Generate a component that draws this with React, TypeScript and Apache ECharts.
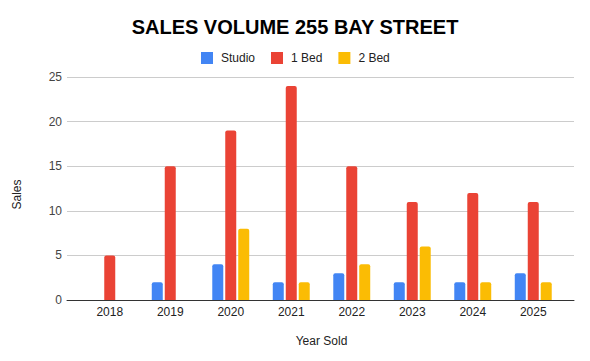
import React, { useEffect, useRef } from "react";
import * as echarts from "echarts";

const categories = ["2018", "2019", "2020", "2021", "2022", "2023", "2024", "2025"];
const studio = [0, 2, 4, 2, 3, 2, 2, 3];
const oneBed = [5, 15, 19, 24, 15, 11, 12, 11];
const twoBed = [0, 0, 8, 2, 4, 6, 2, 2];

export default function App() {
  const ref = useRef<HTMLDivElement>(null);
  useEffect(() => {
    const chart = echarts.init(ref.current!, null, { renderer: "svg" });
    const font = "Arial, 'Liberation Sans', sans-serif";
    const bar = (name: string, data: number[], color: string) => ({
      name,
      type: "bar",
      xAxisIndex: 1,
      yAxisIndex: 1,
      data,
      barWidth: 11,
      barGap: "18%",
      itemStyle: { color, borderRadius: [2, 2, 0, 0] },
    });
    const top = 77;
    const bottom = 61;
    chart.setOption({
      animation: false,
      textStyle: { fontFamily: font },
      title: {
        text: "SALES VOLUME 255 BAY STREET",
        left: "center",
        top: 12,
        textStyle: { fontSize: 20, fontWeight: "bold", color: "#000", fontFamily: font },
      },
      legend: {
        top: 47,
        left: 196,
        itemWidth: 12,
        itemHeight: 12,
        itemGap: 16,
        icon: "rect",
        textStyle: { fontSize: 12, color: "#222", fontFamily: font, padding: [0, 0, 0, 3] },
        data: ["Studio", "1 Bed", "2 Bed"],
      },
      grid: [
        { left: 67, right: 16, top, bottom },
        { left: 79.5, right: 26.5, top, bottom },
      ],
      xAxis: [
        {
          type: "category",
          gridIndex: 0,
          data: categories,
          axisLine: { lineStyle: { color: "#333" } },
          axisTick: { show: false },
          axisLabel: { show: false },
        },
        {
          type: "category",
          gridIndex: 1,
          data: categories,
          name: "Year Sold",
          nameLocation: "middle",
          nameGap: 35,
          nameTextStyle: { fontSize: 12, color: "#222", fontFamily: font },
          axisLine: { show: false },
          axisTick: { show: false },
          axisLabel: { fontSize: 12, color: "#222", margin: 6, fontFamily: font },
        },
      ],
      yAxis: [
        {
          type: "value",
          gridIndex: 0,
          min: 0,
          max: 25,
          interval: 5,
          name: "Sales",
          nameLocation: "middle",
          nameGap: 44,
          nameTextStyle: { fontSize: 12, color: "#222", fontFamily: font, padding: [0, 12, 0, 0] },
          axisLabel: { fontSize: 12, color: "#444", margin: 5, fontFamily: font },
          splitLine: { lineStyle: { color: "#ccc" } },
        },
        {
          type: "value",
          gridIndex: 1,
          min: 0,
          max: 25,
          interval: 5,
          axisLabel: { show: false },
          axisLine: { show: false },
          axisTick: { show: false },
          splitLine: { show: false },
        },
      ],
      series: [
        bar("Studio", studio, "#4285F4"),
        bar("1 Bed", oneBed, "#EA4335"),
        bar("2 Bed", twoBed, "#FBBC04"),
      ],
    });
    return () => chart.dispose();
  }, []);
  return (
    <div
      ref={ref}
      style={{ position: "absolute", left: 0, top: 0, width: 590, height: 361 }}
    />
  );
}
